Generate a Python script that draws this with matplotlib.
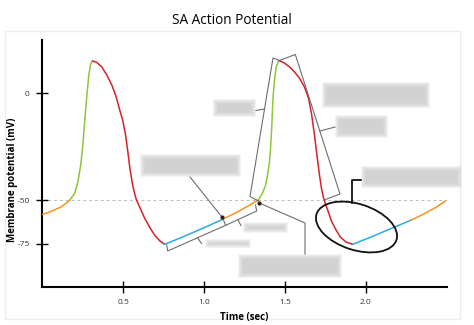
import numpy as np
import matplotlib
matplotlib.use("Agg")
import matplotlib.pyplot as plt
import matplotlib.transforms as mtransforms
from matplotlib.lines import Line2D
from matplotlib.patches import Rectangle, Ellipse

plt.rcParams['font.family'] = ['Open Sans', 'DejaVu Sans']

# --- data (time in s, membrane potential in mV) ---
orange1_t = [0.0, 0.06, 0.12, 0.171]
orange1_v = [-58.3, -56.3, -53.8, -50.0]
green1_t = [0.171, 0.202, 0.221, 0.239, 0.252, 0.264, 0.276, 0.289, 0.301, 0.311]
green1_v = [-50.0, -46.7, -41.6, -33.6, -24.2, -12.5, -1.7, 8.6, 13.8, 15.2]
red1_t = [0.311, 0.338, 0.369, 0.400, 0.431, 0.456, 0.480, 0.498, 0.516, 0.531,
          0.544, 0.562, 0.581, 0.603, 0.634, 0.665, 0.696, 0.727, 0.757]
red1_v = [15.2, 14.5, 12.4, 8.6, 3.9, -1.2, -7.8, -12.5, -19.5, -28.0,
          -35.9, -43.9, -49.5, -54.0, -60.4, -65.6, -70.2, -73.4, -75.4]
blue1_t = [0.757, 0.850, 0.942, 1.035, 1.115]
blue1_v = [-75.4, -71.9, -68.2, -64.4, -61.0]
orange2_t = [1.115, 1.220, 1.334]
orange2_v = [-61.0, -56.1, -50.0]
green2_t = [1.334, 1.361, 1.380, 1.394, 1.404, 1.410, 1.419, 1.425, 1.435, 1.446, 1.462]
green2_v = [-50.0, -46.7, -43.0, -37.3, -32.2, -26.6, -14.8, -3.1, 6.3, 12.4, 15.4]
red2_t = [1.462, 1.497, 1.528, 1.559, 1.589, 1.620, 1.645, 1.663, 1.682, 1.697,
          1.713, 1.725, 1.737, 1.750, 1.764, 1.787, 1.816, 1.842, 1.877, 1.918]
red2_v = [15.4, 14.2, 12.4, 10.0, 7.2, 3.0, -2.2, -9.2, -19.5, -28.9,
          -38.3, -44.4, -48.6, -52.3, -55.8, -62.1, -67.3, -71.3, -74.1, -75.4]
blue2_t = [1.918, 2.021, 2.144, 2.278]
blue2_v = [-75.4, -71.6, -66.7, -61.5]
orange3_t = [2.278, 2.360, 2.434, 2.490]
orange3_v = [-61.5, -57.8, -54.0, -50.4]

xticks = [0.5, 1.0, 1.5, 2.0]
xtick_labels = ["0.5", "1.0", "1.5", "2.0"]
yticks = [0, -50, -75]
ytick_labels = ["0", "-50", "-75"]
threshold = -50

ORANGE = "#f7941d"
GREEN = "#8dc63f"
RED = "#d2232a"
BLUE = "#29abe2"


# the drawing stretches the part above threshold more than the part below
def fwd(y):
    y = np.asarray(y, dtype=float)
    return np.where(y >= -50, (y + 50) * 1.231, y + 50)


def inv(p):
    p = np.asarray(p, dtype=float)
    return np.where(p >= 0, p / 1.231 - 50, p - 50)


fig = plt.figure(figsize=(4.74, 3.25), dpi=100)
ax = fig.add_axes([42 / 474, 1 - 287 / 325, 405 / 474, 247 / 325])
ax.set_yscale('function', functions=(fwd, inv))

ax.axhline(threshold, color="#bcbcbc", lw=0.7, ls=(0, (3, 3)), zorder=1)

for t, v, c in [(orange1_t, orange1_v, ORANGE), (green1_t, green1_v, GREEN),
                (red1_t, red1_v, RED), (blue1_t, blue1_v, BLUE),
                (orange2_t, orange2_v, ORANGE), (green2_t, green2_v, GREEN),
                (red2_t, red2_v, RED), (blue2_t, blue2_v, BLUE),
                (orange3_t, orange3_v, ORANGE)]:
    ax.plot(t, v, color=c, lw=1.1, solid_capstyle='round', zorder=3)

ax.set_xlim(0, 2.5)
ax.set_ylim(-100, 25)
ax.set_xticks(xticks)
ax.set_xticklabels(xtick_labels)
ax.set_yticks(yticks)
ax.set_yticklabels(ytick_labels)
ax.minorticks_off()
ax.tick_params(direction='inout', length=8, width=1.0, labelsize=6,
               labelcolor="#333333", pad=5)
for s in ["top", "right"]:
    ax.spines[s].set_visible(False)
for s in ["left", "bottom"]:
    ax.spines[s].set_linewidth(1.5)

ax.set_xlabel("Time (sec)", fontsize=7, fontweight='bold', labelpad=4)
ax.set_ylabel("Membrane potential (mV)", fontsize=7, fontweight='bold')
ax.yaxis.set_label_coords(-0.059, 0.433)
fig.text(232 / 474, 1 - 20 / 325, "SA Action Potential", ha='center',
         va='center', fontsize=9.8)

# annotations drawn in picture pixels (origin top-left)
pxT = mtransforms.Affine2D().scale(1 / 474, -1 / 325).translate(0, 1) + fig.transFigure

fig.add_artist(Rectangle((5, 31), 455, 288, transform=pxT, fill=False,
                         ec="#ededed", lw=1, zorder=0))


def line(pts, color="#6d6e71", lw=0.8):
    xs, ys = zip(*pts)
    fig.add_artist(Line2D(xs, ys, transform=pxT, color=color, lw=lw, zorder=4))


def dot(x, y):
    fig.add_artist(Line2D([x], [y], transform=pxT, marker='o', ms=2,
                          color="#222222", zorder=5))


def blur_box(x0, y0, x1, y1):
    # soft edged grey block standing in for the hidden label
    for k in range(6):
        d = 1.0 * k
        fig.add_artist(Rectangle((x0 + d, y0 + d), x1 - x0 - 2 * d, y1 - y0 - 2 * d,
                                 transform=pxT, fc="#c4c4c4", ec="none",
                                 alpha=0.2, zorder=6))


# brackets
line([(258.5, 201), (250, 196.5), (273, 58), (279.3, 60.5)])
line([(279.3, 60.5), (295.3, 54.5), (340, 194), (325.5, 199.5)])
line([(256, 110.5), (264.5, 109)])
line([(320, 131), (335, 127)])
line([(166.7, 245), (167.7, 251), (225.7, 225.3), (256.7, 211), (255.5, 205)])
line([(223.5, 220), (225.7, 225.3)])
line([(197.7, 238), (201.5, 243.5)])
line([(237.7, 219.5), (241, 225.5)])
# leaders
line([(190, 177), (221.7, 216.7)])
dot(221.7, 216.7)
line([(259.3, 203), (305, 223), (305, 254)])
dot(259.3, 203)
line([(360.7, 180), (351.7, 180), (351.7, 202.5)], color="#111111", lw=1.3)
fig.add_artist(Ellipse((356.5, 227), 84, 46, angle=18, transform=pxT,
                       fill=False, ec="#111111", lw=1.3, zorder=4))

# hidden labels (blurred)
blur_box(140, 154, 241, 177)
blur_box(213, 99, 256, 117)
blur_box(322, 82, 430, 108)
blur_box(335, 115, 388, 138)
blur_box(361, 166, 462, 188)
blur_box(243, 222, 288, 233)
blur_box(205, 239, 251, 248)
blur_box(238, 254, 342, 278)

fig.savefig("out.png", dpi=100)
